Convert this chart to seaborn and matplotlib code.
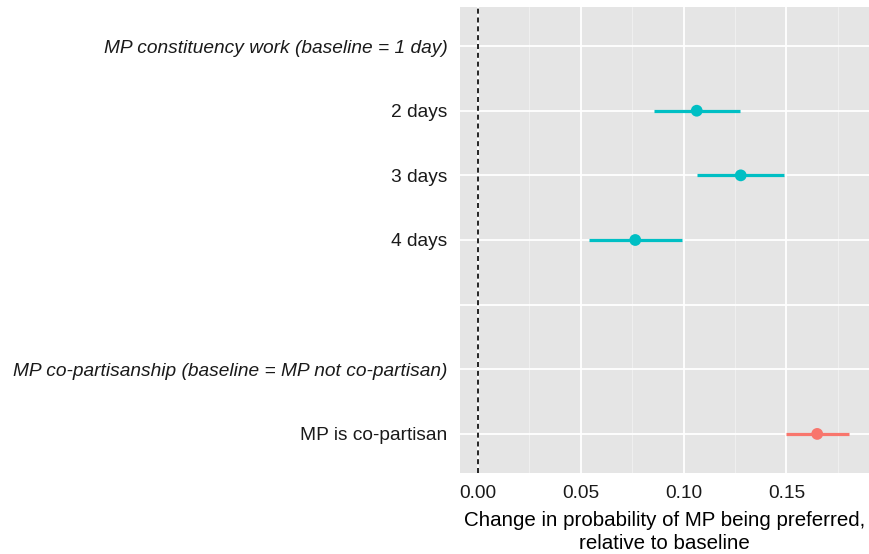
import matplotlib
matplotlib.use("Agg")
import matplotlib.pyplot as plt
import seaborn as sns
import pandas as pd
import numpy as np

# ---- data ----
row_labels = ["MP constituency work (baseline = 1 day)", "2 days", "3 days", "4 days", " ",
              "MP co-partisanship (baseline = MP not co-partisan)", "MP is co-partisan"]
header_rows = ["MP constituency work (baseline = 1 day)",
               "MP co-partisanship (baseline = MP not co-partisan)"]
levels = ["2 days", "3 days", "4 days", "MP is co-partisan"]
groups = ["work", "work", "work", "party"]
estimates = [0.1064, 0.1278, 0.0765, 0.1650]
ci_low = [0.0858, 0.1067, 0.0540, 0.1498]
ci_high = [0.1274, 0.1490, 0.0992, 0.1803]
x_ticks = [0.00, 0.05, 0.10, 0.15]
x_title = "Change in probability of MP being preferred,\nrelative to baseline"

palette = {"work": "#00BFC4", "party": "#F8766D"}

sns.set_theme(style="darkgrid")
plt.rcParams['font.family'] = ['Liberation Sans', 'DejaVu Sans']

df = pd.DataFrame({"level": levels, "group": groups, "est": estimates,
                   "lo": ci_low, "hi": ci_high})
pos_map = {lab: i for i, lab in enumerate(row_labels)}
df["pos"] = df["level"].map(pos_map)

fig = plt.figure(figsize=(8.69, 5.54), dpi=100)
ax = fig.add_axes([460/869, 1 - 472.7/554, (869 - 460)/869, (472.7 - 7.3)/554])
ax.set_facecolor("#E5E5E5")

for _, r in df.iterrows():
    ax.hlines(r["pos"], r["lo"], r["hi"], color=palette[r["group"]], lw=2.3, zorder=3)
sns.scatterplot(data=df, x="est", y="pos", hue="group", palette=palette, s=72,
                edgecolor="none", legend=False, ax=ax, zorder=4)
ax.axvline(0, color="black", lw=1.2, ls=(0, (3, 2.3)), zorder=2)

ax.set_xlim(-0.00875, 0.1902)
ax.set_ylim(len(row_labels) - 1 + 0.6, -0.6)
ax.set_xticks(x_ticks)
ax.set_xticklabels([f"{v:.2f}" for v in x_ticks])
ax.set_xticks([0.025, 0.075, 0.125, 0.175], minor=True)
ax.set_yticks(range(len(row_labels)))
ax.set_yticklabels(row_labels)
for t in ax.get_yticklabels():
    if t.get_text() in header_rows:
        t.set_fontstyle("italic")

ax.grid(which="major", color="white", lw=1.3)
ax.grid(which="minor", axis="x", color="#F2F2F2", lw=0.6)
ax.set_axisbelow(True)
for s in ax.spines.values():
    s.set_visible(False)

ax.tick_params(axis="x", which="major", length=3.5, color="#333333", width=0.8,
               labelsize=13.8, labelcolor="#1A1A1A", pad=5.5)
ax.tick_params(axis="x", which="minor", length=0)
ax.tick_params(axis="y", length=0, labelsize=13.8, labelcolor="#1A1A1A", pad=9)
ax.set_xlabel(x_title, fontsize=14.8, color="black", labelpad=6, linespacing=1.3)
ax.set_ylabel("")

fig.savefig("out.png", dpi=100)
